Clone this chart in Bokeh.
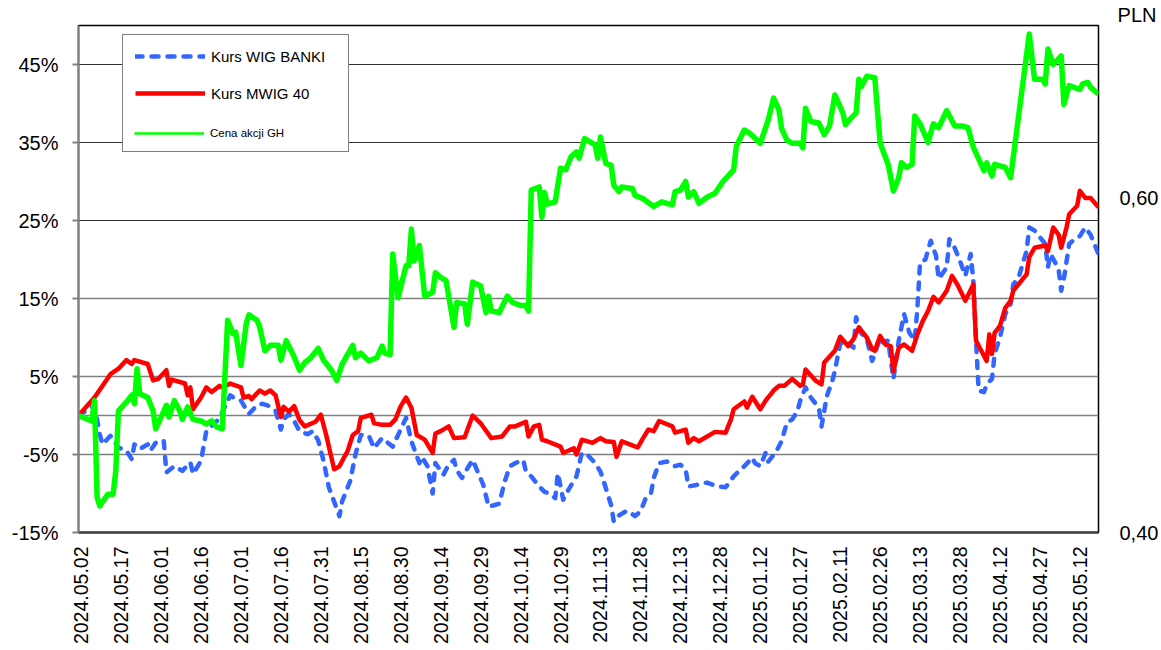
import math
import pandas as pd
from bokeh.plotting import figure
from bokeh.models import (Range1d, LinearAxis, FixedTicker, PrintfTickFormatter,
                          CustomJSTickFormatter, DatetimeTickFormatter, Legend,
                          LegendItem, Title, Grid, ColumnDataSource)
from bokeh.embed import file_html
from bokeh.resources import INLINE

FONT = "Liberation Sans"

# ---------------- data ----------------
START = "2024-05-01"   # day 0 of the day-offset lists below
END = "2025-05-19"

tick_dates = ["2024-05-02", "2024-05-17", "2024-06-01", "2024-06-16", "2024-07-01",
              "2024-07-16", "2024-07-31", "2024-08-15", "2024-08-30", "2024-09-14",
              "2024-09-29", "2024-10-14", "2024-10-29", "2024-11-13", "2024-11-28",
              "2024-12-13", "2024-12-28", "2025-01-12", "2025-01-27", "2025-02-11",
              "2025-02-26", "2025-03-13", "2025-03-28", "2025-04-12", "2025-04-27",
              "2025-05-12"]
pct_ticks = [-15, -5, 5, 15, 25, 35, 45]
pln_ticks = [0.40, 0.60]

# Kurs WIG BANKI (% change)
banki_day = [0, 6, 8, 9, 12, 15, 18, 20, 21, 23, 26, 27, 29, 32, 33, 36, 39, 42, 43, 46,
             48, 52, 54, 57, 59, 61, 64, 67, 69, 71, 74, 76, 77, 79, 81, 83, 86, 88, 90, 92,
             94, 98, 99, 102, 104, 106, 109, 111, 113, 114, 118, 120, 123, 125, 128, 129, 131,
             133, 134, 137, 139, 141, 142, 144, 146, 148, 149, 152, 154, 158, 160, 162, 164,
             167, 168, 170, 173, 175, 177, 179, 180, 182, 184, 187, 189, 191, 194, 196, 198,
             200, 201, 203, 206, 209, 211, 213, 215, 216, 218, 221, 224, 226, 228, 229, 232,
             236, 240, 243, 246, 250, 253, 254, 256, 258, 259, 262, 264, 266, 268, 270, 271,
             273, 275, 278, 279, 281, 283, 284, 286, 288, 291, 292, 294, 296, 298, 299, 301,
             302, 304, 306, 308, 310, 312, 314, 315, 316, 318, 320, 322, 323, 326, 327, 329,
             331, 333, 335, 336, 337, 338, 340, 341, 343, 344, 346, 348, 350, 351, 353, 356,
             357, 359, 363, 364, 365, 368, 369, 370, 372, 374, 376, 378, 380, 383]
banki_val = [0.0, 1.3, -2.4, -3.7, -2.6, -4.1, -4.5, -5.6, -3.7, -4.3, -3.7, -4.5, -3.5, -3.2,
             -7.3, -6.5, -7.1, -6.0, -7.5, -5.8, -2.0, -0.7, 0.4, 2.6, 2.1, 1.9, 0.2, 1.3, 1.5,
             1.3, 0.6, -1.8, -0.5, 0.2, -0.7, -2.0, -2.4, -2.0, -3.2, -5.8, -9.2, -12.9, -11.0,
             -8.4, -5.0, -2.5, -2.6, -4.2, -3.3, -2.9, -4.0, -2.5, -0.3, -3.3, -6.1, -5.3, -6.5,
             -10.0, -6.1, -7.6, -6.3, -5.7, -7.0, -8.0, -6.8, -5.7, -6.5, -8.9, -11.7, -11.3,
             -8.5, -6.5, -6.1, -5.7, -7.2, -7.8, -9.1, -9.8, -10.0, -10.6, -7.4, -10.8, -9.5,
             -7.8, -4.8, -5.0, -6.1, -7.2, -9.3, -11.5, -13.6, -12.8, -12.2, -12.9, -12.3,
             -10.6, -9.9, -8.0, -6.1, -5.9, -6.5, -6.3, -6.9, -9.1, -8.9, -8.6, -9.1, -9.2,
             -7.8, -6.5, -5.4, -6.1, -6.5, -4.8, -5.9, -4.6, -3.3, -0.9, -0.5, 0.6, 1.9, 3.6,
             2.3, 1.0, -1.4, 2.5, 4.4, 5.7, 9.2, 9.6, 8.7, 12.6, 10.5, 9.8, 7.0, 7.9, 10.0, 9.4,
             9.6, 4.7, 9.6, 13.0, 10.6, 9.6, 13.8, 19.6, 20.0, 22.4, 20.5, 17.5, 19.0, 22.6,
             21.5, 19.8, 17.9, 20.7, 17.3, 9.6, 3.2, 3.0, 4.0, 4.7, 7.9, 10.0, 13.0, 14.3, 16.8,
             17.7, 21.1, 24.1, 23.7, 22.0, 19.0, 20.7, 18.8, 16.0, 17.5, 22.0, 22.6, 23.0, 24.1,
             23.2, 20.7]

# Kurs MWIG 40 (% change)
mwig_day = [0, 6, 12, 15, 18, 20, 21, 26, 28, 30, 33, 34, 35, 40, 41, 42, 43, 46, 48, 50, 53,
            54, 57, 61, 62, 64, 65, 68, 70, 72, 74, 76, 77, 79, 81, 83, 85, 89, 91, 93, 96, 98,
            100, 101, 103, 105, 106, 110, 111, 114, 117, 119, 121, 123, 125, 127, 130, 133,
            134, 136, 139, 141, 145, 148, 151, 155, 159, 162, 164, 168, 169, 171, 173, 174,
            176, 181, 182, 186, 187, 189, 193, 196, 198, 201, 202, 204, 207, 210, 212, 214,
            216, 218, 223, 224, 228, 229, 231, 233, 239, 243, 245, 246, 250, 251, 253, 256,
            258, 261, 263, 265, 268, 271, 272, 273, 277, 279, 280, 284, 286, 289, 291, 293,
            296, 298, 299, 301, 303, 305, 306, 308, 310, 313, 315, 317, 319, 321, 323, 326,
            328, 330, 333, 336, 337, 339, 341, 342, 343, 344, 346, 348, 350, 351, 356, 357,
            359, 363, 364, 366, 368, 369, 371, 372, 375, 376, 378, 380, 383]
mwig_val = [0.0, 2.3, 5.3, 6.0, 7.1, 6.6, 7.1, 6.6, 4.5, 4.7, 5.8, 3.8, 4.6, 4.1, 2.6, 3.6,
            0.8, 2.3, 3.6, 3.0, 3.8, 3.6, 4.1, 3.6, 2.3, 2.5, 2.1, 3.2, 2.8, 3.2, 2.6, -0.2,
            1.1, 0.5, 1.2, -0.6, -1.4, -0.8, 0.1, -2.5, -6.9, -6.5, -5.2, -4.6, -2.5, -2.0,
            -0.3, 0.1, -1.0, -1.2, -1.2, -0.5, 1.2, 2.3, 1.0, -2.5, -3.1, -4.8, -2.3, -2.0,
            -1.4, -2.9, -2.8, 0.0, -1.0, -2.9, -2.7, -1.4, -1.4, -0.8, -2.7, -1.4, -1.2, -3.1,
            -3.3, -4.0, -4.8, -4.2, -5.0, -3.1, -3.5, -2.9, -3.3, -3.4, -5.3, -3.3, -3.7, -4.1,
            -2.9, -1.8, -2.0, -0.7, -1.4, -2.2, -1.8, -3.5, -2.9, -3.3, -2.1, -2.2, -0.5, 0.8,
            1.8, 1.0, 2.4, 0.8, 1.9, 3.2, 3.8, 3.8, 4.7, 3.8, 4.0, 5.9, 4.4, 4.0, 6.8, 8.3,
            10.1, 8.9, 9.8, 11.3, 10.0, 8.5, 8.3, 10.2, 9.1, 8.9, 5.7, 8.7, 9.1, 8.3, 10.4,
            12.1, 13.4, 15.2, 14.5, 16.0, 17.9, 16.8, 14.7, 16.8, 9.6, 8.3, 7.0, 10.4, 7.9,
            10.6, 11.5, 13.8, 14.7, 16.0, 18.1, 20.3, 21.5, 21.8, 21.1, 24.1, 23.2, 21.5, 24.1,
            25.8, 26.9, 28.8, 27.9, 27.9, 26.7]

# Cena akcji GH (% change)
gh_day = [0, 5, 6, 7, 8, 11, 13, 14, 15, 18, 20, 21, 22, 23, 26, 28, 29, 31, 33, 34, 36, 38,
          39, 41, 43, 46, 48, 50, 52, 54, 56, 58, 59, 61, 63, 64, 67, 68, 70, 72, 75, 76, 78,
          81, 83, 85, 87, 90, 92, 95, 97, 99, 103, 104, 106, 109, 112, 114, 115, 117, 118,
          120, 123, 124, 125, 126, 128, 130, 133, 134, 136, 138, 141, 142, 145, 146, 148,
          151, 153, 154, 155, 158, 161, 163, 166, 168, 169, 170, 173, 174, 175, 176, 179,
          181, 183, 185, 187, 188, 190, 194, 195, 196, 198, 200, 201, 203, 204, 208, 209,
          212, 216, 219, 223, 224, 226, 228, 229, 231, 233, 236, 239, 242, 246, 247, 250,
          252, 256, 259, 261, 263, 264, 266, 268, 271, 272, 273, 275, 278, 280, 282, 284,
          287, 288, 290, 292, 293, 294, 296, 299, 301, 302, 304, 306, 308, 309, 311, 313,
          314, 316, 319, 321, 323, 326, 329, 332, 334, 336, 340, 341, 343, 344, 346, 348,
          350, 357, 359, 362, 363, 364, 366, 369, 370, 372, 376, 377, 379, 380, 383]
gh_val = [0.0, -0.7, 1.9, -10.5, -11.6, -10.1, -10.1, -7.1, 0.6, 1.7, 2.6, 1.5, 6.0, 2.8,
          2.3, 0.6, -1.7, -0.2, 1.3, -0.2, 1.9, 0.6, -0.5, 1.1, -0.5, -0.7, -1.1, -0.7, -1.5,
          -1.7, 12.2, 10.5, 10.7, 6.4, 11.8, 12.9, 12.2, 11.4, 8.3, 9.0, 9.0, 7.1, 9.6, 7.5,
          5.8, 6.8, 7.3, 8.6, 7.1, 5.8, 4.5, 6.6, 9.0, 7.4, 8.0, 7.0, 7.4, 8.9, 8.0, 7.8,
          20.7, 15.1, 19.2, 19.2, 23.9, 19.8, 21.8, 15.3, 15.8, 18.3, 17.7, 17.3, 11.3, 14.5,
          14.3, 11.7, 17.1, 16.6, 13.2, 15.3, 13.4, 13.2, 15.3, 14.5, 14.1, 14.1, 13.4, 28.9,
          29.3, 25.4, 28.6, 27.1, 27.4, 31.7, 31.5, 33.2, 33.8, 33.0, 35.5, 34.7, 33.0, 35.7,
          32.3, 32.1, 29.5, 28.7, 29.3, 29.1, 28.2, 27.8, 26.8, 27.4, 27.0, 28.7, 28.9, 30.0,
          28.0, 28.7, 27.2, 28.0, 28.5, 30.0, 31.5, 34.5, 36.6, 36.2, 34.9, 37.9, 40.7, 39.2,
          36.8, 35.3, 34.9, 34.9, 34.3, 39.4, 37.7, 37.5, 36.0, 37.1, 41.1, 38.8, 37.3, 38.1,
          38.8, 43.1, 42.2, 43.5, 43.3, 35.0, 34.0, 32.2, 28.8, 30.5, 32.4, 31.8, 32.2, 38.4,
          37.4, 35.0, 37.4, 36.9, 39.1, 37.1, 37.1, 36.9, 34.4, 31.4, 32.4, 30.7, 32.2, 32.0,
          31.8, 30.5, 48.9, 43.1, 43.1, 42.5, 47.0, 45.0, 46.1, 39.9, 42.3, 41.8, 42.5, 42.7,
          42.1, 41.2]


def to_dates(days):
    return pd.Timestamp(START) + pd.to_timedelta(days, unit="D")


banki = ColumnDataSource(dict(x=to_dates(banki_day), y=banki_val))
mwig = ColumnDataSource(dict(x=to_dates(mwig_day), y=mwig_val))
gh = ColumnDataSource(dict(x=to_dates(gh_day), y=gh_val))

# ---------------- figure ----------------
p = figure(width=1161, height=650, x_axis_type="datetime",
           x_range=Range1d(pd.Timestamp(START), pd.Timestamp(END)),
           y_range=Range1d(-15, 50),
           output_backend="svg", toolbar_location=None,
           min_border_left=78, min_border_top=25, min_border_right=62,
           min_border_bottom=118)
p.background_fill_color = "white"
p.border_fill_color = "white"
p.outline_line_color = "black"
p.outline_line_width = 1.5

# unit caption of the right axis, placed above its labels
p.add_layout(Title(text="PLN", align="right", offset=-58, standoff=0,
                   text_font=FONT, text_font_size="20px", text_font_style="normal",
                   text_color="black"), "above")

# grids
p.xgrid.visible = False
p.ygrid.ticker = FixedTicker(ticks=[-5, 0, 5, 15])
p.ygrid.grid_line_color = "#808080"
p.ygrid.grid_line_width = 1.5
p.add_layout(Grid(dimension=1, ticker=FixedTicker(ticks=[25, 35, 45]),
                  grid_line_color="#303030", grid_line_width=1.2))

# x axis
xa = p.xaxis[0]
xa.ticker = FixedTicker(ticks=[pd.Timestamp(d).value // 10**6 for d in tick_dates])
fmt = "%Y.%m.%d"
xa.formatter = DatetimeTickFormatter(microseconds=fmt, milliseconds=fmt, seconds=fmt,
                                     minsec=fmt, minutes=fmt, hourmin=fmt, hours=fmt,
                                     days=fmt, months=fmt, years=fmt)
xa.major_label_orientation = math.pi / 2
xa.major_tick_out = 0
xa.major_tick_in = 0
xa.minor_tick_line_color = None
xa.axis_line_color = "#404040"
xa.axis_line_width = 2.5
xa.major_label_text_font = FONT
xa.major_label_text_font_size = "19.5px"
xa.major_label_text_color = "black"
xa.major_label_standoff = 14

# left axis
ya = p.yaxis[0]
ya.ticker = FixedTicker(ticks=pct_ticks)
ya.formatter = PrintfTickFormatter(format="%d%%")
ya.axis_line_color = "#808080"
ya.axis_line_width = 2
ya.major_tick_out = 6
ya.major_tick_in = 0
ya.major_tick_line_color = "#808080"
ya.major_tick_line_width = 2
ya.minor_tick_line_color = None
ya.major_label_text_font = FONT
ya.major_label_text_font_size = "20px"
ya.major_label_text_color = "black"
ya.major_label_standoff = 14

# right axis (PLN)
p.extra_y_ranges = {"pln": Range1d(0.40, 0.703)}
ra = LinearAxis(y_range_name="pln", ticker=FixedTicker(ticks=pln_ticks),
                formatter=CustomJSTickFormatter(
                    code="return tick.toFixed(2).replace('.', ',');"),
                axis_line_color=None, major_tick_line_color=None,
                minor_tick_line_color=None,
                major_label_text_font=FONT, major_label_text_font_size="20px",
                major_label_text_color="black", major_label_standoff=15)
p.add_layout(ra, "right")

# series
r_banki = p.line("x", "y", source=banki, line_color="#3366FF", line_width=4.5,
                 line_dash="7 9", line_cap="round", line_join="round")
r_mwig = p.line("x", "y", source=mwig, line_color="#FF0000", line_width=4.5,
                line_join="round")
r_gh = p.line("x", "y", source=gh, line_color="#00FF00", line_width=5.5,
              line_join="round")

# legend (hidden helper renderers only provide legend swatches)
nan = float("nan")
dummy = p.line(x=[pd.Timestamp(START)], y=[nan], line_alpha=0)
gh_key = p.line(x=[pd.Timestamp(START)], y=[nan], line_color="#00FF00", line_width=2.5)

leg_a = Legend(items=[LegendItem(label="Kurs WIG BANKI", renderers=[r_banki]),
                      LegendItem(label="Kurs MWIG 40", renderers=[r_mwig]),
                      LegendItem(label=" ", renderers=[dummy])],
               location=(44, 380), glyph_width=70, glyph_height=18, label_height=18,
               label_width=125, label_standoff=6, padding=12, spacing=19, margin=0,
               border_line_color="black", border_line_width=1,
               background_fill_color="white", background_fill_alpha=1,
               label_text_font=FONT, label_text_font_size="15px",
               label_text_color="black")
leg_b = Legend(items=[LegendItem(label="Cena akcji GH", renderers=[gh_key])],
               location=(56, 392), glyph_width=70, glyph_height=14, label_height=14,
               label_standoff=6, padding=0, margin=0, border_line_color=None,
               background_fill_alpha=0,
               label_text_font=FONT, label_text_font_size="11.5px",
               label_text_color="black")
p.add_layout(leg_a)
p.add_layout(leg_b)

open("out.html", "w").write(file_html(p, INLINE))
